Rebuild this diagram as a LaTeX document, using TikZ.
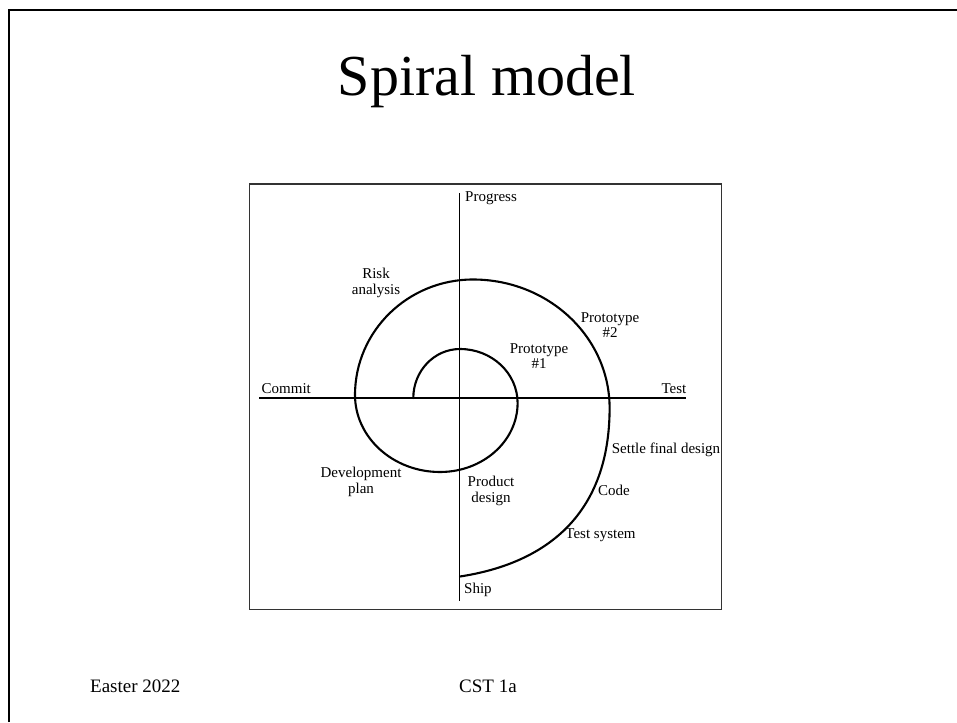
\documentclass[tikz,border=0pt]{standalone}
\usepackage{fontspec}
\setmainfont{Liberation Serif}
\begin{document}
\begin{tikzpicture}[x=1pt,y=-1pt,
  lbl/.style={font=\fontsize{15}{15.5}\selectfont, inner sep=0pt, align=center},
  axis/.style={line width=1.1pt, black},
  spiralline/.style={line width=2.1pt, black, line join=round, line cap=round},
  slideframe/.style={line width=2.5pt, black},
  figframe/.style={line width=1.2pt, black!80}]
\useasboundingbox (0,0) rectangle (957,722);
\fill[white] (0,0) rectangle (957,722);
% slide frame
\draw[slideframe] (9,722) -- (9,10) -- (957,10);
% title and footer
\node[font=\fontsize{58}{60}\selectfont, anchor=base, inner sep=0pt] (title) at (487,96) {Spiral model};
\node[font=\fontsize{19}{20}\selectfont, anchor=base west, inner sep=0pt] (date) at (90,692) {Easter 2022};
\node[font=\fontsize{19}{20}\selectfont, anchor=base west, inner sep=0pt] (course) at (459,692) {CST 1a};
% figure frame
\draw[figframe] (249.5,184) rectangle (721.5,609.5);
% axes
\coordinate (vtop) at (459.5,193);
\coordinate (vbot) at (459.5,601);
\coordinate (hleft) at (259,398);
\coordinate (hright) at (686,398);
\draw[axis] (vtop) -- (vbot);
\draw[axis] (hleft) -- (hright);
% spiral
\coordinate (s0) at (413.3,398);
\coordinate (s1) at (460,349);
\coordinate (s2) at (517.6,403);
\coordinate (s3) at (440,472);
\coordinate (s4) at (355,395);
\coordinate (s5) at (473,279.5);
\coordinate (s6) at (609.6,408);
\coordinate (s7) at (460,576.5);
\draw[spiralline] (s0)
  .. controls (413.3,371) and (434.2,349) .. (s1)
  .. controls (491.8,349) and (517.6,373.2) .. (s2)
  .. controls (517.6,441.1) and (482.9,472) .. (s3)
  .. controls (393.1,472) and (355,437.5) .. (s4)
  .. controls (355,331.2) and (407.8,279.5) .. (s5)
  .. controls (548.4,279.5) and (609.6,337) .. (s6)
  .. controls (609.6,513) and (548,563) .. (s7);
% labels
\node[lbl, anchor=west] (progress) at (465,198) {Progress};
\node[lbl] (risk) at (376,283) {Risk\\analysis};
\node[lbl] (proto2) at (610,325) {Prototype\\\#2};
\node[lbl] (proto1) at (539,356) {Prototype\\\#1};
\node[lbl, anchor=west] (commit) at (261.5,388.5) {Commit};
\node[lbl, anchor=east] (test) at (686.5,388.5) {Test};
\node[lbl] (settle) at (666,450) {Settle final design};
\node[lbl] (code) at (614,490) {Code};
\node[lbl] (testsys) at (600.5,535) {Test system};
\node[lbl] (devplan) at (361,482) {Development\\plan};
\node[lbl] (proddes) at (491,491) {Product\\design};
\node[lbl, anchor=west] (ship) at (464,590) {Ship};
\end{tikzpicture}
\end{document}
